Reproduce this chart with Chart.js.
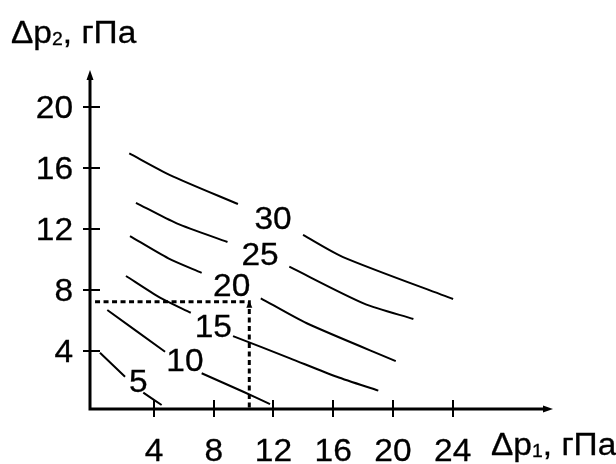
<!DOCTYPE html>
<html>
<head>
<meta charset="utf-8">
<script src="https://cdn.jsdelivr.net/npm/chart.js@4/dist/chart.umd.min.js"></script>
<style>
  html, body { margin: 0; padding: 0; background: #fff; }
  canvas { display: block; }
</style>
</head>
<body>
<canvas id="isolines" width="616" height="464"></canvas>
<script>
// isoline levels and where their numbers sit (in axis units)
const levels = [5, 10, 15, 20, 25, 30];
const levelLabelX = [2.95, 6.07, 7.97, 9.20, 11.10, 11.97];
const levelLabelY = [2.05, 3.41, 5.64, 8.33, 10.36, 12.72];

// isolines as [x, y] pairs, null = break left for the number
const line5 = [[0.38, 3.89], [2.06, 2.31], null, [3.28, 1.27], [4.51, 0.46]];
const line10 = [[0.87, 6.69], [4.74, 3.95], null, [7.19, 2.54], [9.98, 1.33], [11.77, 0.52]];
const line15 = [[2.12, 8.92], [4.40, 7.50], [6.46, 6.51], null, [9.29, 4.98], [13.11, 3.52], [16.24, 2.31], [19.02, 1.40]];
const line20 = [[2.39, 11.54], [4.96, 10.08], [7.19, 9.13], null, [11.15, 7.46], [14.23, 5.82], [20.19, 3.34]];
const line25 = [[2.79, 13.72], [5.52, 12.37], [8.92, 11.15], null, [13.06, 9.53], [18.07, 7.11], [21.37, 6.10]];
const line30 = [[2.34, 16.96], [5.07, 15.54], [9.62, 13.64], null, [13.98, 11.61], [16.66, 10.16], [24.03, 7.41]];

const xTicks = [4, 8, 12, 16, 20, 24];
const yTicks = [4, 8, 12, 16, 20];

// working point
const guideX = 10.38;
const guideY = 7.23;

const FONT = '"Liberation Sans", Arial, sans-serif';
const STRETCH = 1.08;

function toPoints(pairs) {
  return pairs.map((p, i) => {
    if (p) return { x: p[0], y: p[1] };
    return { x: (pairs[i - 1][0] + pairs[i + 1][0]) / 2, y: null };
  });
}

function text(ctx, str, x, y, align) {
  ctx.save();
  ctx.translate(x, y);
  ctx.scale(STRETCH, 1);
  ctx.textAlign = align;
  ctx.textBaseline = 'alphabetic';
  ctx.lineWidth = 0.3;
  ctx.fillText(str, 0, 0);
  ctx.strokeText(str, 0, 0);
  ctx.restore();
}

// "Δp" + subscript + ", гПа"
function axisTitle(ctx, x, y, sub) {
  ctx.font = '31px ' + FONT;
  const a = 'Δp';
  text(ctx, a, x, y, 'left');
  x += ctx.measureText(a).width * STRETCH;
  ctx.font = '18px ' + FONT;
  text(ctx, sub, x, y + 2, 'left');
  x += ctx.measureText(sub).width * STRETCH;
  ctx.font = '31px ' + FONT;
  text(ctx, ', гПа', x, y, 'left');
}

function arrow(ctx, tipX, tipY, dx, dy, len, half) {
  // dx, dy: unit direction the arrow points to
  const bx = tipX - dx * len, by = tipY - dy * len;
  ctx.beginPath();
  ctx.moveTo(tipX, tipY);
  ctx.lineTo(bx - dy * half, by + dx * half);
  ctx.lineTo(bx + dy * half, by - dx * half);
  ctx.closePath();
  ctx.fill();
}

const decor = {
  id: 'decor',
  afterDatasetsDraw(chart) {
    const { ctx, chartArea: area, scales: { x, y } } = chart;
    ctx.save();
    ctx.strokeStyle = '#000';
    ctx.fillStyle = '#000';
    ctx.lineCap = 'butt';

    const ox = area.left, oy = area.bottom;

    // axes with arrows
    ctx.lineWidth = 3;
    ctx.beginPath();
    ctx.moveTo(ox, oy + 1.5);
    ctx.lineTo(ox, area.top + 6);
    ctx.moveTo(ox - 1.5, oy);
    ctx.lineTo(area.right - 6, oy);
    ctx.stroke();
    arrow(ctx, ox, area.top, 0, -1, 10, 3.5);
    arrow(ctx, area.right, oy, 1, 0, 10, 3.5);

    // tick marks crossing the axes
    ctx.lineWidth = 2;
    ctx.beginPath();
    yTicks.forEach(v => {
      const py = Math.round(y.getPixelForValue(v));
      ctx.moveTo(ox - 7, py);
      ctx.lineTo(ox + 10, py);
    });
    xTicks.forEach(v => {
      const px = Math.round(x.getPixelForValue(v));
      ctx.moveTo(px, oy - 9);
      ctx.lineTo(px, oy + 8);
    });
    ctx.stroke();

    // tick labels
    ctx.font = '31px ' + FONT;
    yTicks.forEach(v => text(ctx, String(v), ox - 17, y.getPixelForValue(v) + 11, 'right'));
    xTicks.forEach(v => text(ctx, String(v), x.getPixelForValue(v), 461, 'center'));

    // isoline numbers
    levels.forEach((lvl, i) => {
      text(ctx, String(lvl), x.getPixelForValue(levelLabelX[i]), y.getPixelForValue(levelLabelY[i]) + 11, 'center');
    });

    // little arrow on top of the dotted vertical
    arrow(ctx, x.getPixelForValue(guideX), y.getPixelForValue(guideY) - 1, 0, -1, 7, 3);

    axisTitle(ctx, 11, 43, '2');
    axisTitle(ctx, 491, 455, '1');
    ctx.restore();
  }
};

const isolineSets = [line5, line10, line15, line20, line25, line30].map(pairs => ({
  data: toPoints(pairs),
  borderColor: '#000',
  borderWidth: 2,
  pointRadius: 0,
  tension: 0.25,
  spanGaps: false,
  fill: false
}));

const guideSet = {
  data: [{ x: 0.05, y: guideY }, { x: guideX, y: guideY }, { x: guideX, y: 0.2 }],
  borderColor: '#000',
  borderWidth: 3,
  borderDash: [5, 3.5],
  pointRadius: 0,
  tension: 0,
  fill: false
};

new Chart(document.getElementById('isolines'), {
  type: 'line',
  data: { datasets: [...isolineSets, guideSet] },
  options: {
    responsive: false,
    animation: false,
    layout: { padding: { left: 90, right: 63, top: 70, bottom: 55 } },
    scales: {
      x: { type: 'linear', min: -0.288, max: 30.72, display: false },
      y: { type: 'linear', min: 0.197, max: 22.43, display: false }
    },
    plugins: { legend: { display: false }, tooltip: { enabled: false } }
  },
  plugins: [decor]
});
</script>
</body>
</html>
